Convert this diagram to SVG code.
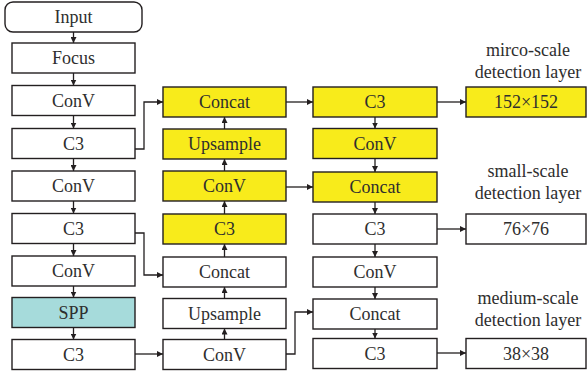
<svg xmlns="http://www.w3.org/2000/svg" width="587" height="375" viewBox="0 0 587 375">
  <defs>
    <marker id="arrow" markerUnits="userSpaceOnUse" markerWidth="6" markerHeight="6" refX="6" refY="3" orient="auto">
      <path d="M0,0 L6,3 L0,6 z" fill="#231f20"/>
    </marker>
    <style>
      .box { fill: #ffffff; stroke: #231f20; stroke-width: 1.4; }
      .yel { fill: #f8eb1b; }
      .spp { fill: #a6dbdb; }
      .lbl { font-family: "Liberation Serif", "Times New Roman", serif; font-size: 18px; fill: #2e2e2e; text-anchor: middle; }
      .edge { fill: none; stroke: #231f20; stroke-width: 1.3; marker-end: url(#arrow); }
    </style>
  </defs>
  <rect width="587" height="375" fill="#ffffff"/>

  <!-- backbone -->
  <g id="input"><rect class="box" x="5" y="2" width="137" height="30" rx="8"/><text class="lbl" x="73.5" y="23">Input</text></g>
  <g id="focus"><rect class="box" x="12" y="43" width="123" height="30"/><text class="lbl" x="73.5" y="64">Focus</text></g>
  <g id="b-conv1"><rect class="box" x="12" y="85.5" width="123" height="30"/><text class="lbl" x="73.5" y="106.5">ConV</text></g>
  <g id="b-c3-1"><rect class="box" x="12" y="128.5" width="123" height="30"/><text class="lbl" x="73.5" y="149.5">C3</text></g>
  <g id="b-conv2"><rect class="box" x="12" y="171" width="123" height="30"/><text class="lbl" x="73.5" y="192">ConV</text></g>
  <g id="b-c3-2"><rect class="box" x="12" y="213.5" width="123" height="30"/><text class="lbl" x="73.5" y="234.5">C3</text></g>
  <g id="b-conv3"><rect class="box" x="12" y="256" width="123" height="30"/><text class="lbl" x="73.5" y="277">ConV</text></g>
  <g id="spp"><rect class="box spp" x="12" y="297.5" width="123" height="30"/><text class="lbl" x="73.5" y="318.5">SPP</text></g>
  <g id="b-c3-3"><rect class="box" x="12" y="339.5" width="123" height="30"/><text class="lbl" x="73.5" y="360.5">C3</text></g>

  <!-- top-down path -->
  <g id="m-concat1"><rect class="box yel" x="163" y="87" width="123" height="30"/><text class="lbl" x="224.5" y="108">Concat</text></g>
  <g id="m-upsample1"><rect class="box yel" x="163" y="129" width="123" height="30"/><text class="lbl" x="224.5" y="150">Upsample</text></g>
  <g id="m-conv1"><rect class="box yel" x="163" y="171" width="123" height="30"/><text class="lbl" x="224.5" y="192">ConV</text></g>
  <g id="m-c3"><rect class="box yel" x="163" y="214" width="123" height="30"/><text class="lbl" x="224.5" y="235">C3</text></g>
  <g id="m-concat2"><rect class="box" x="163" y="257" width="123" height="30"/><text class="lbl" x="224.5" y="278">Concat</text></g>
  <g id="m-upsample2"><rect class="box" x="163" y="298.5" width="123" height="30"/><text class="lbl" x="224.5" y="319.5">Upsample</text></g>
  <g id="m-conv2"><rect class="box" x="163" y="339.5" width="123" height="30"/><text class="lbl" x="224.5" y="360.5">ConV</text></g>

  <!-- bottom-up path -->
  <g id="r-c3-1"><rect class="box yel" x="313" y="87" width="124" height="30"/><text class="lbl" x="375" y="108">C3</text></g>
  <g id="r-conv1"><rect class="box yel" x="313" y="128.5" width="124" height="30"/><text class="lbl" x="375" y="149.5">ConV</text></g>
  <g id="r-concat1"><rect class="box yel" x="313" y="172" width="124" height="30"/><text class="lbl" x="375" y="193">Concat</text></g>
  <g id="r-c3-2"><rect class="box" x="313" y="214" width="124" height="30"/><text class="lbl" x="375" y="235">C3</text></g>
  <g id="r-conv2"><rect class="box" x="313" y="257" width="124" height="30"/><text class="lbl" x="375" y="278">ConV</text></g>
  <g id="r-concat2"><rect class="box" x="313" y="299" width="124" height="30"/><text class="lbl" x="375" y="320">Concat</text></g>
  <g id="r-c3-3"><rect class="box" x="313" y="338.5" width="124" height="30"/><text class="lbl" x="375" y="359.5">C3</text></g>

  <!-- detection heads -->
  <g id="head-152">
    <text class="lbl" x="528" y="56">mirco-scale</text>
    <text class="lbl" x="528" y="78">detection layer</text>
    <rect class="box yel" x="466" y="87" width="120" height="30"/><text class="lbl" x="526" y="108">152×152</text>
  </g>
  <g id="head-76">
    <text class="lbl" x="528" y="177">small-scale</text>
    <text class="lbl" x="528" y="199">detection layer</text>
    <rect class="box" x="466" y="214" width="120" height="30"/><text class="lbl" x="526" y="235">76×76</text>
  </g>
  <g id="head-38">
    <text class="lbl" x="528" y="304">medium-scale</text>
    <text class="lbl" x="528" y="326">detection layer</text>
    <rect class="box" x="466" y="338.5" width="120" height="30"/><text class="lbl" x="526" y="359.5">38×38</text>
  </g>

  <g id="connectors">
    <!-- backbone, downward -->
    <path class="edge" d="M73.5,32 V43"/>
    <path class="edge" d="M73.5,73 V85.5"/>
    <path class="edge" d="M73.5,115.5 V128.5"/>
    <path class="edge" d="M73.5,158.5 V171"/>
    <path class="edge" d="M73.5,201 V213.5"/>
    <path class="edge" d="M73.5,243.5 V256"/>
    <path class="edge" d="M73.5,286 V297.5"/>
    <path class="edge" d="M73.5,327.5 V339.5"/>
    <!-- top-down path, upward -->
    <path class="edge" d="M224.5,129 V117"/>
    <path class="edge" d="M224.5,171 V159"/>
    <path class="edge" d="M224.5,214 V201"/>
    <path class="edge" d="M224.5,257 V244"/>
    <path class="edge" d="M224.5,298.5 V287"/>
    <path class="edge" d="M224.5,339.5 V328.5"/>
    <!-- bottom-up path, downward -->
    <path class="edge" d="M375,117 V128.5"/>
    <path class="edge" d="M375,158.5 V172"/>
    <path class="edge" d="M375,202 V214"/>
    <path class="edge" d="M375,244 V257"/>
    <path class="edge" d="M375,287 V299"/>
    <path class="edge" d="M375,329 V338.5"/>
    <!-- lateral links -->
    <path class="edge" d="M135,149 H144 V102 H163"/>
    <path class="edge" d="M135,233 H144 V275 H163"/>
    <path class="edge" d="M135,354 H163"/>
    <path class="edge" d="M286,102 H313"/>
    <path class="edge" d="M286,187 H313"/>
    <path class="edge" d="M286,354 H295 V312 H313"/>
    <path class="edge" d="M437,102 H466"/>
    <path class="edge" d="M437,229 H466"/>
    <path class="edge" d="M437,353 H466"/>
  </g>
</svg>
